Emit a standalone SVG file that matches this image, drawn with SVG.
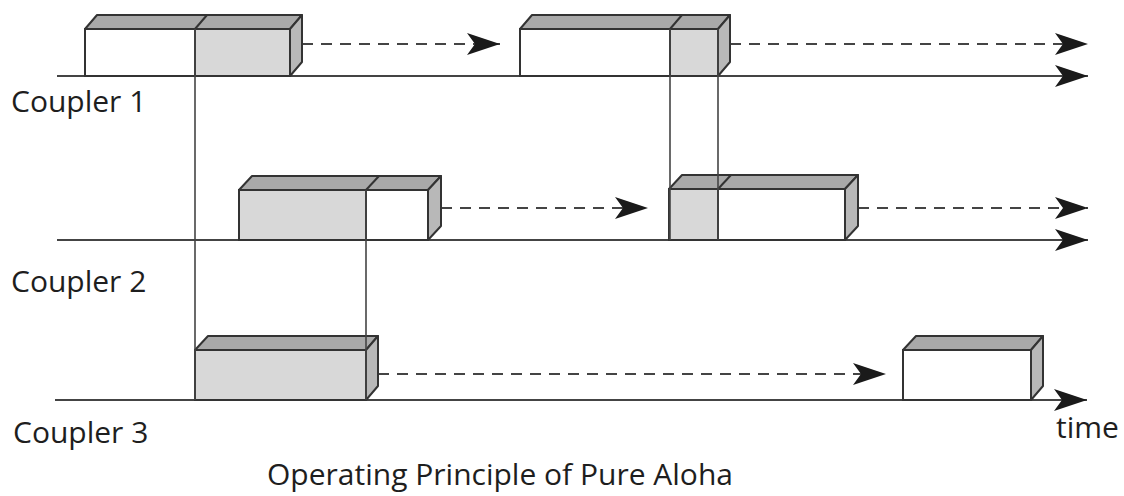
<svg xmlns="http://www.w3.org/2000/svg" width="1124" height="496" viewBox="0 0 1124 496">
<style>
.front-w{fill:#ffffff;stroke:#333;stroke-width:2}
.front-g{fill:#d8d8d8;stroke:#333;stroke-width:2}
.top{fill:#a9a9a9;stroke:#333;stroke-width:2;stroke-linejoin:round}
.side{fill:#b8b8b8;stroke:#333;stroke-width:2;stroke-linejoin:round}
.div{stroke:#333;stroke-width:2;fill:none}
.axis{stroke:#444;stroke-width:2;fill:none}
.dash{stroke:#444;stroke-width:2;fill:none;stroke-dasharray:11 8}
.coll{stroke:#444;stroke-width:1.6;fill:none}
.lbl{font-family:"Open Sans","Liberation Sans",sans-serif;font-size:30px;fill:#1e1e1e}
</style>
<defs>
<marker id="ah" markerUnits="userSpaceOnUse" markerWidth="36" markerHeight="24" refX="33" refY="11" orient="auto" viewBox="0 0 36 24">
<path d="M0,0 L33,11 L0,22 L8,11 z" fill="#1a1a1a"/>
</marker>
</defs>
<g id="connectors">
<line class="axis" x1="57" y1="76" x2="1088" y2="76" marker-end="url(#ah)"/>
<line class="axis" x1="57" y1="240" x2="1088" y2="240" marker-end="url(#ah)"/>
<line class="axis" x1="55" y1="400" x2="1087" y2="400" marker-end="url(#ah)"/>
<line class="dash" x1="302" y1="44" x2="500" y2="44" marker-end="url(#ah)"/>
<line class="dash" x1="730" y1="44" x2="1088" y2="44" marker-end="url(#ah)"/>
<line class="dash" x1="441" y1="208" x2="648" y2="208" marker-end="url(#ah)"/>
<line class="dash" x1="858" y1="208" x2="1088" y2="208" marker-end="url(#ah)"/>
<line class="dash" x1="378" y1="374" x2="886" y2="374" marker-end="url(#ah)"/>
</g>
<g id="c1-frame1">
<rect class="front-w" x="85" y="29" width="110" height="47"/>
<rect class="front-g" x="195" y="29" width="95" height="47"/>
<polygon class="top" points="85,29 97,15 302,15 290,29"/>
<polygon class="side" points="290,29 302,15 302,62 290,76"/>
<line class="div" x1="195" y1="29" x2="207" y2="15"/>
</g>
<g id="c1-frame2">
<rect class="front-w" x="520" y="29" width="150" height="47"/>
<rect class="front-g" x="670" y="29" width="48" height="47"/>
<polygon class="top" points="520,29 532,15 730,15 718,29"/>
<polygon class="side" points="718,29 730,15 730,62 718,76"/>
<line class="div" x1="670" y1="29" x2="682" y2="15"/>
</g>
<g id="c2-frame1">
<rect class="front-g" x="239" y="190" width="127" height="50"/>
<rect class="front-w" x="366" y="190" width="62" height="50"/>
<polygon class="top" points="239,190 252,176 441,176 428,190"/>
<polygon class="side" points="428,190 441,176 441,226 428,240"/>
<line class="div" x1="366" y1="190" x2="379" y2="176"/>
</g>
<g id="c2-frame2">
<rect class="front-g" x="669" y="189" width="49" height="51"/>
<rect class="front-w" x="718" y="189" width="127" height="51"/>
<polygon class="top" points="669,189 682,175 858,175 845,189"/>
<polygon class="side" points="845,189 858,175 858,226 845,240"/>
<line class="div" x1="718" y1="189" x2="731" y2="175"/>
</g>
<g id="c3-frame1">
<rect class="front-g" x="195" y="350" width="171" height="50"/>
<polygon class="top" points="195,350 208,336 378,336 366,350"/>
<polygon class="side" points="366,350 378,336 378,386 366,400"/>
</g>
<g id="c3-frame2">
<rect class="front-w" x="903" y="350" width="128" height="50"/>
<polygon class="top" points="903,350 916,336 1043,336 1031,350"/>
<polygon class="side" points="1031,350 1043,336 1043,386 1031,400"/>
</g>
<g id="collisions">
<line class="coll" x1="195" y1="29" x2="195" y2="400"/>
<line class="coll" x1="366" y1="190" x2="366" y2="400"/>
<line class="coll" x1="670" y1="29" x2="670" y2="240"/>
<line class="coll" x1="718" y1="29" x2="718" y2="240"/>
</g>
<g id="labels">
<text class="lbl" x="11" y="112">Coupler 1</text>
<text class="lbl" x="11" y="292">Coupler 2</text>
<text class="lbl" x="13" y="443">Coupler 3</text>
<text class="lbl" x="1056" y="438">time</text>
<text class="lbl" x="500" y="485" text-anchor="middle">Operating Principle of Pure Aloha</text>
</g>
</svg>
